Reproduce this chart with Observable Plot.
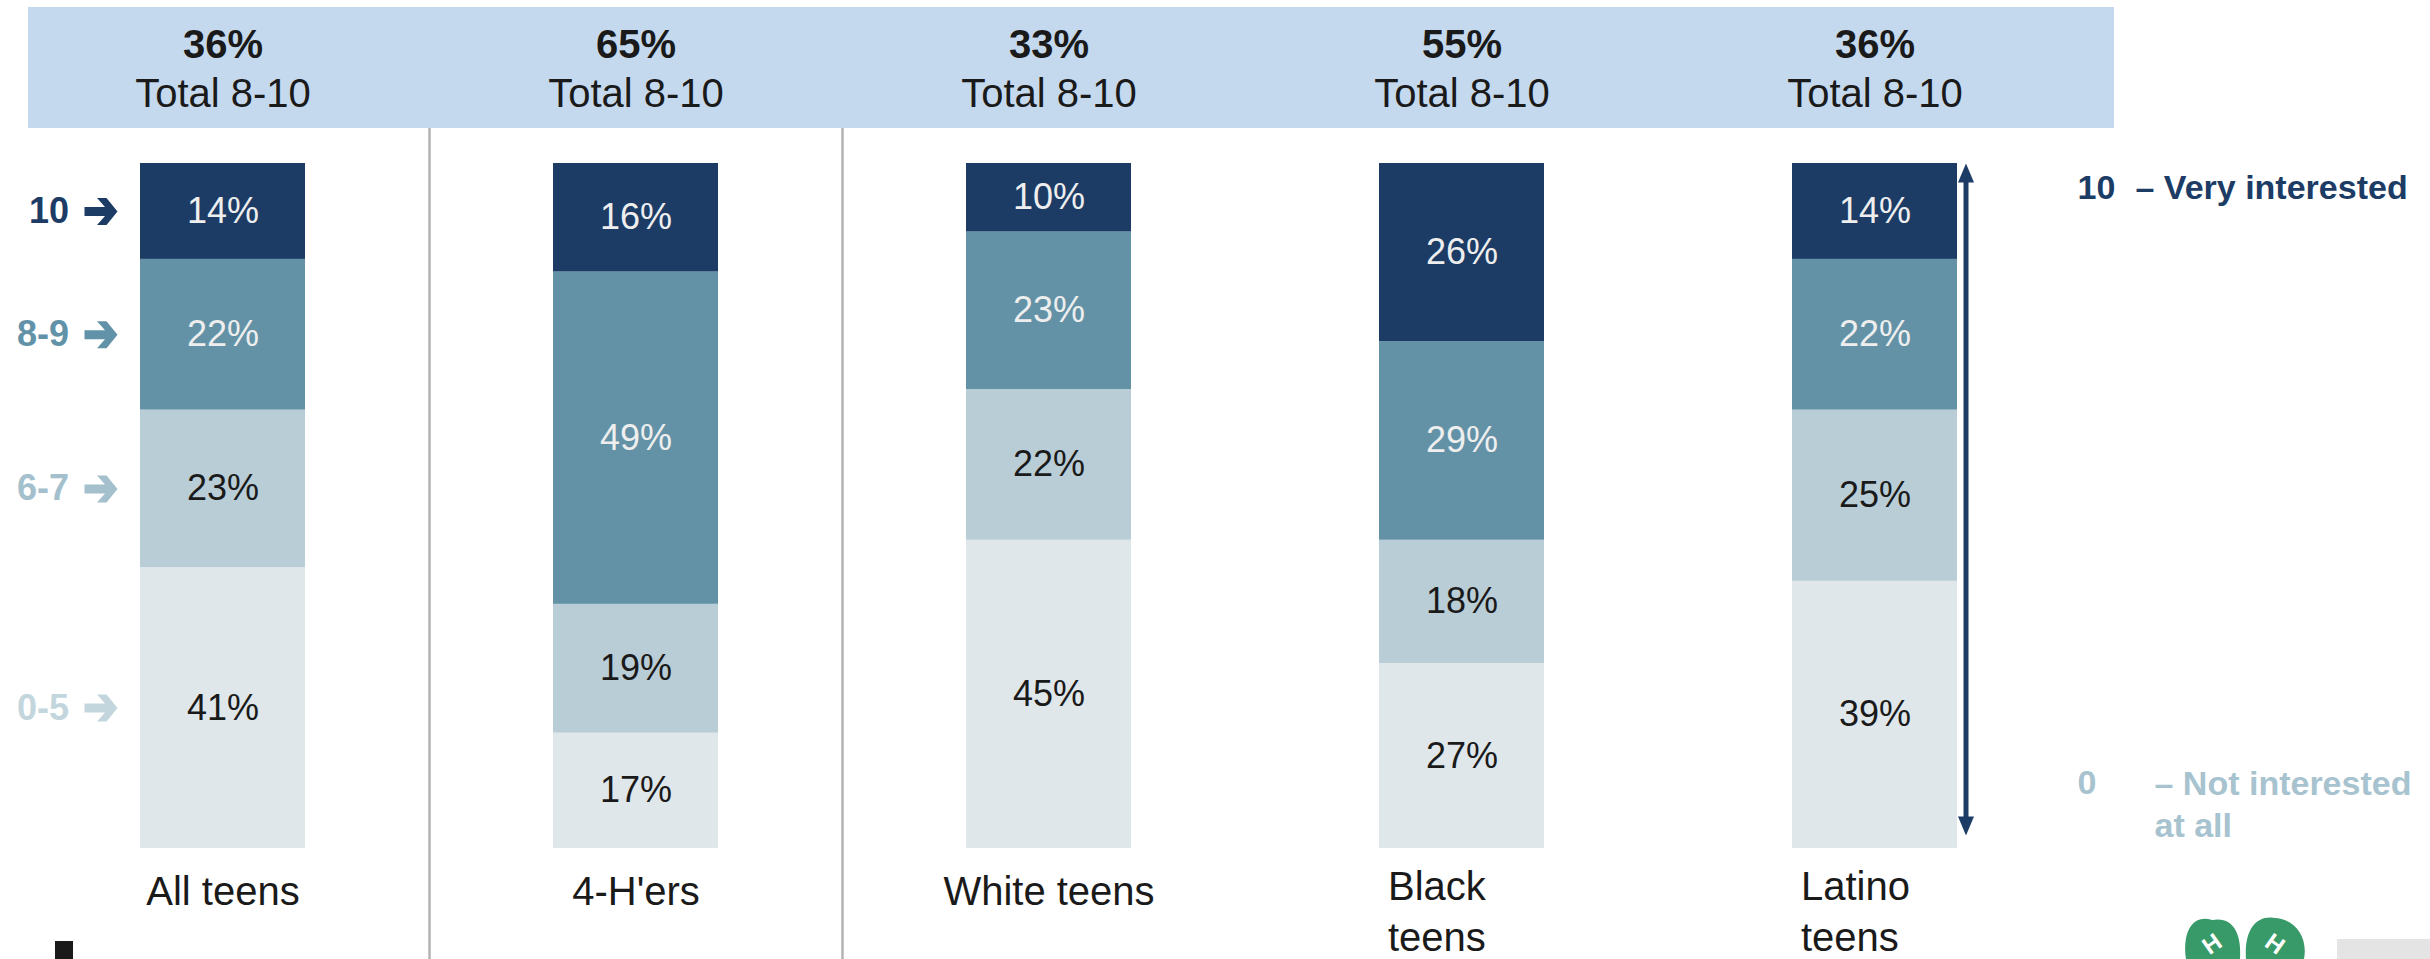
<!DOCTYPE html>
<html><head><meta charset="utf-8">
<script src="https://cdn.jsdelivr.net/npm/d3@7"></script>
<script src="https://cdn.jsdelivr.net/npm/@observablehq/plot@0.6"></script>
<style>
body{margin:0;background:#fff;}
#wrap{position:relative;width:2430px;height:959px;overflow:hidden;background:#fff;font-family:"Liberation Sans",Arial,sans-serif;}
#band{position:absolute;left:28px;top:7px;width:2086px;height:121px;background:#c5d9ee;}
#head,#main{position:absolute;left:0;}
#head{top:0}
#main{top:128px}
.deco{position:absolute;}
</style></head><body>
<div id="wrap">
  <div id="band"></div>
  <div id="head"></div>
  <div id="main"></div>
  <div class="deco" style="left:55px;top:941px;width:18px;height:18px;background:#1a1a1a"></div>
  <div class="deco" style="left:2337px;top:939px;width:93px;height:20px;background:#e4e4e4"></div>
  <svg class="deco" style="left:2180px;top:912px" width="130" height="47" viewBox="0 0 130 47">
    <path d="M32,8 C14,2 2,18 6,47 L60,47 C62,20 52,4 32,8 Z" fill="#379a68"/>
    <path d="M96,6 C76,2 64,18 66,47 L124,47 C128,26 116,8 96,6 Z" fill="#379a68"/>
    <text x="32" y="40" fill="#fff" font-size="24" font-weight="bold" font-family="Liberation Sans" text-anchor="middle" transform="rotate(-35 32 32)">H</text>
    <text x="95" y="40" fill="#fff" font-size="24" font-weight="bold" font-family="Liberation Sans" text-anchor="middle" transform="rotate(35 95 32)">H</text>
  </svg>
</div>
<script>
// ---- data ----
const categories = ["All teens", "4-H'ers", "White teens", "Black teens", "Latino teens"];
const categoryLabels = ["All teens", "4-H'ers", "White teens", "Black\nteens", "Latino\nteens"];
const totals = [36, 65, 33, 55, 36];
const levels = ["0-5", "6-7", "8-9", "10"];
const pct0to5 = [41, 17, 45, 27, 39];
const pct6to7 = [23, 19, 22, 18, 25];
const pct8to9 = [22, 49, 23, 29, 22];
const pct10   = [14, 16, 10, 26, 14];

// ---- styles ----
const FONT = '"Liberation Sans", Arial, sans-serif';
const levelColors = ["#dfe7eb", "#b9cdd6", "#6392a7", "#1c3c66"];
const levelLabelColors = ["#c3d6de", "#a3c0cc", "#6292a8", "#1c3c66"];
const NAVY = "#1c3c66";
const LIGHT = "#a7c3cf";
const W = 2430, ML = 16, MR = 349;
const step = (W - ML - MR) / categories.length;

const series = [pct0to5, pct6to7, pct8to9, pct10];
const rows = [];
levels.forEach((lv, j) => categories.forEach((c, i) => rows.push({category: c, level: lv, value: series[j][i]})));
const firstRows = rows.filter(d => d.category === categories[0]);
const header = categories.map((c, i) => ({category: c, total: totals[i]}));
const labels = categories.map((c, i) => ({category: c, label: categoryLabels[i]}));

const xScale = {type: "band", domain: categories, paddingInner: 0.6, paddingOuter: 0.3, axis: null};

// ---- header ----
const head = Plot.plot({
  width: W, height: 128, marginTop: 7, marginBottom: 0, marginLeft: ML, marginRight: MR,
  style: {background: "transparent", fontFamily: FONT, overflow: "visible"},
  x: {...xScale},
  marks: [
    Plot.text(header, {x: "category", text: d => d.total + "%", frameAnchor: "top", lineAnchor: "middle", dy: 38,
      fontSize: 40, fontWeight: "bold", fill: "#1a1a1a", fontFamily: FONT}),
    Plot.text(header, {x: "category", text: () => "Total 8-10", frameAnchor: "top", lineAnchor: "middle", dy: 87,
      fontSize: 40, fill: "#1a1a1a", fontFamily: FONT})
  ]
});
document.getElementById("head").appendChild(head);

// ---- main ----
const stackOpts = {x: "category", y: "value", z: "level", offset: "normalize"};
const triUp = {draw(ctx) { ctx.moveTo(0, 0); ctx.lineTo(8, 19); ctx.lineTo(-8, 19); ctx.closePath(); }};
const triDown = {draw(ctx) { ctx.moveTo(0, 0); ctx.lineTo(8, -19); ctx.lineTo(-8, -19); ctx.closePath(); }};
const rightArrow = {draw(ctx) {
  const pts = [[-16.5, -4.5], [4, -4.5], [-4, -13.5], [5.5, -13.5], [16.5, 0], [5.5, 13.5], [-4, 13.5], [4, 4.5], [-16.5, 4.5]];
  ctx.moveTo(pts[0][0], pts[0][1]);
  for (const p of pts.slice(1)) ctx.lineTo(p[0], p[1]);
  ctx.closePath();
}};
const last = [categories[categories.length - 1]];

const main = Plot.plot({
  width: W, height: 831, marginTop: 35, marginBottom: 111, marginLeft: ML, marginRight: MR,
  style: {background: "transparent", fontFamily: FONT, overflow: "visible"},
  x: {...xScale},
  y: {domain: [0, 1], axis: null},
  color: {domain: levels, range: levelColors},
  marks: [
    Plot.ruleX([categories[1], categories[2]], {x: d => d, dx: -step / 2, stroke: "#b3b3b3", strokeWidth: 2.5,
      insetTop: -35, insetBottom: -111}),
    Plot.barY(rows, Plot.stackY({...stackOpts, fill: "level"})),
    Plot.text(rows, Plot.stackY({...stackOpts,
      text: d => (d.level === "10" || d.level === "8-9") ? d.value + "%" : null,
      fill: "#eeeeee", fontSize: 36, fontFamily: FONT})),
    Plot.text(rows, Plot.stackY({...stackOpts,
      text: d => (d.level === "0-5" || d.level === "6-7") ? d.value + "%" : null,
      fill: "#1a1a1a", fontSize: 36, fontFamily: FONT})),
    // left-hand level labels, placed at the All-teens segment centres
    ...levels.map((lv, j) => Plot.text(firstRows, Plot.stackY({...stackOpts,
      text: d => d.level === lv ? lv : null,
      fill: levelLabelColors[j], fontWeight: "bold", fontSize: 36, textAnchor: "end", dx: -154, fontFamily: FONT}))),
    ...levels.map((lv, j) => Plot.dot(firstRows, Plot.stackY({...stackOpts,
      r: d => d.level === lv ? 1 : 0, symbol: rightArrow,
      fill: levelLabelColors[j], stroke: null, dx: -122}))),
    // category labels
    Plot.text(labels.filter(d => !d.label.includes("\n")), {x: "category", text: "label", frameAnchor: "bottom",
      lineAnchor: "top", dy: 28, fontSize: 40, fill: "#1a1a1a", fontFamily: FONT}),
    Plot.text(labels.filter(d => d.label.includes("\n")), {x: "category", text: "label", frameAnchor: "bottom",
      lineAnchor: "top", dy: 15, dx: -74, textAnchor: "start", lineHeight: 1.28, fontSize: 40, fill: "#1a1a1a", fontFamily: FONT}),
    // double-headed arrow
    Plot.ruleX(last, {x: d => d, dx: 91, stroke: NAVY, strokeWidth: 5, insetTop: 12, insetBottom: 26}),
    Plot.dot(last, {x: d => d, dx: 91, frameAnchor: "top", symbol: triUp, fill: NAVY, stroke: null, r: 5}),
    Plot.dot(last, {x: d => d, dx: 91, dy: -13, frameAnchor: "bottom", symbol: triDown, fill: NAVY, stroke: null, r: 5}),
    // scale end labels
    Plot.text(["10"], {frameAnchor: "top-right", lineAnchor: "middle", dx: -4, dy: 25, textAnchor: "start", text: d => d,
      fill: NAVY, fontWeight: "bold", fontSize: 34, fontFamily: FONT}),
    Plot.text(["\u2013 Very interested"], {frameAnchor: "top-right", lineAnchor: "middle", dx: 54, dy: 25, textAnchor: "start", text: d => d,
      fill: NAVY, fontWeight: "bold", fontSize: 34, fontFamily: FONT}),
    Plot.text(["0"], {frameAnchor: "bottom-right", lineAnchor: "middle", dx: -4, dy: -65, textAnchor: "start", text: d => d,
      fill: LIGHT, fontWeight: "bold", fontSize: 34, fontFamily: FONT}),
    Plot.text(["\u2013 Not interested\nat all"], {frameAnchor: "bottom-right", lineAnchor: "middle", dx: 73, dy: -46, textAnchor: "start",
      lineHeight: 1.24, text: d => d, fill: LIGHT, fontWeight: "bold", fontSize: 34, fontFamily: FONT})
  ]
});
document.getElementById("main").appendChild(main);
</script>
</body></html>
